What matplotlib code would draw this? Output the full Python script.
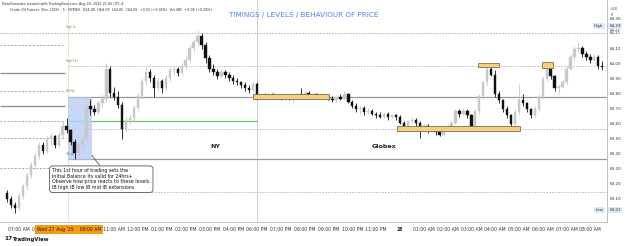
import matplotlib
matplotlib.use("Agg")
import matplotlib.pyplot as plt
import matplotlib.transforms as mtransforms
from matplotlib.patches import Rectangle

# ===== 1. Data (10-min bars, index 0 = 06:30 AM, 17:00-18:00 break skipped) =====
opens = [63.14, 63.10, 63.06, 63.04, 63.12, 63.19, 63.26, 63.33, 63.39, 63.46,
         63.42, 63.50, 63.52, 63.46, 63.53, 63.59, 63.56, 63.48, 63.41, 63.46,
         63.50, 63.72, 63.70, 63.68, 63.74, 63.77, 63.97, 63.81, 63.78, 63.73,
         63.57, 63.63, 63.64, 63.71, 63.79, 63.89, 63.95, 63.91, 63.84, 63.89,
         63.84, 63.91, 63.96, 63.97, 63.94, 63.99, 64.03, 64.11, 64.15, 64.19,
         64.13, 64.04, 63.97, 63.95, 63.92, 63.95, 63.93, 63.91, 63.89, 63.88,
         63.86, 63.84, 63.83, 63.87, 63.78, 63.79, 63.78, 63.80, 63.78, 63.79,
         63.77, 63.78, 63.77, 63.78, 63.80, 63.79, 63.81, 63.78, 63.80, 63.78,
         63.79, 63.78, 63.77, 63.76, 63.78, 63.77, 63.80, 63.75, 63.72, 63.70,
         63.71, 63.68, 63.69, 63.67, 63.66, 63.65, 63.67, 63.65, 63.66, 63.65,
         63.61, 63.58, 63.62, 63.63, 63.61, 63.57, 63.59, 63.56, 63.57, 63.55,
         63.53, 63.57, 63.59, 63.61, 63.69, 63.67, 63.69, 63.66, 63.59, 63.69,
         63.79, 63.88, 63.97, 63.93, 63.80, 63.76, 63.70, 63.66, 63.60, 63.68,
         63.76, 63.74, 63.70, 63.66, 63.70, 63.78, 63.90, 63.97, 63.92, 63.84,
         63.85, 63.88, 63.97, 64.05, 64.10, 64.11, 64.07, 64.05, 64.03, 64.05,
         63.99]
highs = [63.16, 63.12, 63.08, 63.14, 63.21, 63.28, 63.35, 63.41, 63.48, 63.48,
         63.52, 63.54, 63.53, 63.55, 63.62, 63.64, 63.57, 63.50, 63.48, 63.53,
         63.78, 63.77, 63.73, 63.76, 63.80, 64.01, 63.99, 63.85, 63.82, 63.75,
         63.65, 63.67, 63.73, 63.81, 63.91, 63.98, 63.97, 63.93, 63.91, 63.90,
         63.93, 63.98, 63.99, 63.98, 64.01, 64.06, 64.13, 64.17, 64.23, 64.21,
         64.15, 64.06, 64.00, 63.97, 63.97, 63.96, 63.95, 63.93, 63.91, 63.89,
         63.88, 63.86, 63.89, 63.88, 63.80, 63.81, 63.80, 63.81, 63.80, 63.80,
         63.79, 63.79, 63.79, 63.81, 63.84, 63.82, 63.82, 63.81, 63.81, 63.80,
         63.80, 63.79, 63.79, 63.79, 63.80, 63.82, 63.81, 63.76, 63.74, 63.72,
         63.72, 63.71, 63.70, 63.68, 63.68, 63.68, 63.68, 63.67, 63.67, 63.66,
         63.62, 63.63, 63.65, 63.64, 63.62, 63.60, 63.60, 63.58, 63.58, 63.56,
         63.58, 63.60, 63.63, 63.70, 63.70, 63.71, 63.70, 63.67, 63.70, 63.80,
         63.89, 64.00, 64.00, 63.96, 63.82, 63.77, 63.72, 63.67, 63.70, 63.87,
         63.80, 63.75, 63.71, 63.72, 63.80, 63.92, 64.01, 63.99, 63.93, 63.87,
         63.90, 63.99, 64.07, 64.12, 64.15, 64.12, 64.09, 64.07, 64.07, 64.06,
         64.02]
lows = [63.08, 63.04, 63.01, 63.03, 63.10, 63.16, 63.24, 63.30, 63.37, 63.40,
        63.41, 63.46, 63.44, 63.45, 63.51, 63.54, 63.46, 63.37, 63.39, 63.42,
        63.49, 63.66, 63.66, 63.67, 63.71, 63.75, 63.78, 63.76, 63.71, 63.50,
        63.55, 63.60, 63.62, 63.69, 63.77, 63.86, 63.88, 63.78, 63.82, 63.81,
        63.83, 63.89, 63.93, 63.92, 63.93, 63.97, 64.01, 64.08, 64.12, 64.10,
        64.01, 63.95, 63.93, 63.90, 63.91, 63.91, 63.89, 63.87, 63.86, 63.84,
        63.82, 63.81, 63.82, 63.76, 63.76, 63.77, 63.76, 63.77, 63.77, 63.76,
        63.76, 63.76, 63.74, 63.77, 63.78, 63.77, 63.77, 63.77, 63.77, 63.76,
        63.77, 63.76, 63.75, 63.75, 63.76, 63.76, 63.74, 63.71, 63.68, 63.67,
        63.66, 63.67, 63.66, 63.64, 63.64, 63.64, 63.63, 63.64, 63.63, 63.60,
        63.56, 63.57, 63.60, 63.59, 63.51, 63.55, 63.54, 63.55, 63.53, 63.52,
        63.52, 63.56, 63.58, 63.60, 63.65, 63.66, 63.64, 63.56, 63.56, 63.67,
        63.77, 63.86, 63.92, 63.78, 63.74, 63.68, 63.64, 63.57, 63.58, 63.66,
        63.72, 63.68, 63.64, 63.65, 63.69, 63.77, 63.89, 63.90, 63.82, 63.80,
        63.84, 63.87, 63.96, 64.03, 64.08, 64.05, 64.03, 64.01, 64.02, 63.97,
        63.96]
closes = [63.10, 63.06, 63.04, 63.12, 63.19, 63.26, 63.33, 63.39, 63.46, 63.42,
          63.50, 63.52, 63.46, 63.53, 63.59, 63.56, 63.48, 63.41, 63.46, 63.50,
          63.72, 63.70, 63.68, 63.74, 63.77, 63.97, 63.81, 63.78, 63.73, 63.57,
          63.63, 63.64, 63.71, 63.79, 63.89, 63.95, 63.91, 63.84, 63.89, 63.84,
          63.91, 63.96, 63.97, 63.94, 63.99, 64.03, 64.11, 64.15, 64.19, 64.13,
          64.04, 63.97, 63.95, 63.92, 63.95, 63.93, 63.91, 63.89, 63.88, 63.86,
          63.84, 63.83, 63.87, 63.78, 63.79, 63.78, 63.80, 63.78, 63.79, 63.77,
          63.78, 63.77, 63.78, 63.80, 63.79, 63.81, 63.78, 63.80, 63.78, 63.79,
          63.78, 63.77, 63.76, 63.78, 63.77, 63.80, 63.75, 63.72, 63.70, 63.71,
          63.68, 63.69, 63.67, 63.66, 63.65, 63.67, 63.65, 63.66, 63.65, 63.61,
          63.58, 63.62, 63.63, 63.61, 63.57, 63.59, 63.56, 63.57, 63.55, 63.53,
          63.57, 63.59, 63.61, 63.69, 63.67, 63.69, 63.66, 63.59, 63.69, 63.79,
          63.88, 63.97, 63.93, 63.80, 63.76, 63.70, 63.66, 63.60, 63.68, 63.76,
          63.74, 63.70, 63.66, 63.70, 63.78, 63.90, 63.97, 63.92, 63.84, 63.85,
          63.88, 63.97, 64.05, 64.10, 64.11, 64.07, 64.05, 64.03, 64.05, 63.99,
          63.98]

# time axis labels (bar index of each full hour)
hour_pos = [3, 9, 21, 27, 33, 39, 45, 51, 57, 63, 69, 75, 81, 87, 93, 99,
            105, 111, 117, 123, 129, 135, 141, 147]
hour_labels = ["07:00 AM", "08:00 AM", "10:00 AM", "11:00 AM", "12:00 PM",
               "01:00 PM", "02:00 PM", "03:00 PM", "04:00 PM", "06:00 PM",
               "07:00 PM", "08:00 PM", "09:00 PM", "10:00 PM", "11:00 PM", "28",
               "01:00 AM", "02:00 AM", "03:00 AM", "04:00 AM", "05:00 AM",
               "06:00 AM", "07:00 AM", "08:00 AM"]

# price scale
price_ticks = [64.30, 64.10, 64.00, 63.90, 63.80, 63.70, 63.60, 63.50, 63.40,
               63.30, 63.20, 63.10]

# previous-day levels (left) and IB levels (right)
left_levels = [64.13, 63.94, 63.82, 63.72, 63.62, 63.51, 63.31]
left_styles = ["--", "-", "--", "-", "--", "--", "--"]
ib_levels = [63.99, 63.78, 63.57, 63.37, 63.15]
ib_styles = ["--", "-", "--", "-", "--"]
top_level = 64.21
green_level = 63.62

# highlighted zones: (start bar, end bar, low, high)
zones = [(62.0, 81.2, 63.77, 63.80),
         (98.3, 129.3, 63.553, 63.585),
         (118.7, 124.0, 63.98, 64.007),
         (134.8, 137.6, 63.973, 64.013)]

# ===== 2. Figure =====
fig = plt.figure(figsize=(6.25, 2.46), dpi=100)
ax = fig.add_axes([0.0, 1 - 222 / 246, 607 / 625, 222 / 246])
ax.set_xlim(-1.8, 151.2)
ax.set_ylim(62.947, 64.427)
for s in ["top", "left"]:
    ax.spines[s].set_visible(False)
ax.spines["right"].set_color("#b2b5be")
ax.spines["bottom"].set_color("#b2b5be")
ax.spines["right"].set_linewidth(0.6)
ax.spines["bottom"].set_linewidth(0.6)
ax.set_xticks([])
ax.set_yticks([])

up_col, dn_col = "#c8c8c8", "#111111"
for i in range(len(closes)):
    col = up_col if closes[i] >= opens[i] else dn_col
    ax.vlines(i, lows[i], highs[i], color=col, lw=0.6, zorder=4)
    bottom = min(opens[i], closes[i])
    height = max(abs(closes[i] - opens[i]), 0.006)
    ax.add_patch(Rectangle((i - 0.3, bottom), 0.6, height, fc=col, ec=col,
                           lw=0.3, zorder=5))

# session verticals
ax.axvline(15.3, color="#f3e2c0", lw=0.7, zorder=1)
ax.axvline(63.0, color="#c8c8c8", lw=0.6, zorder=1)

# levels
dash = (0, (2.5, 1.8))
ax.hlines(top_level, -1.8, 151.2, color="#9a9a9a", lw=0.5, ls=dash, zorder=2)
for lv, st in zip(left_levels, left_styles):
    ls = dash if st == "--" else "-"
    col = "#9a9a9a" if st == "--" else "#8a8a8a"
    ax.hlines(lv, -1.8, 14.6, color=col, lw=0.6 if st == "--" else 0.9,
              ls=ls, zorder=2)
for lv, st in zip(ib_levels, ib_styles):
    ls = dash if st == "--" else "-"
    col = "#a8a8a8" if st == "--" else "#9a9a9a"
    ax.hlines(lv, 15.3, 151.2, color=col, lw=0.5 if st == "--" else 0.9,
              ls=ls, zorder=2)
ax.hlines(green_level, 15.3, 63.0, color="#5fd35f", lw=0.9, zorder=3)

# IB box
ax.add_patch(Rectangle((15.3, ib_levels[3]), 5.9, ib_levels[1] - ib_levels[3],
                       fc="#bcd0f7", ec="#aac2f0", lw=0.4, alpha=0.85, zorder=3))

for x0, x1, lo, hi in zones:
    ax.add_patch(Rectangle((x0, lo), x1 - x0, hi - lo, fc="#f3cf86",
                           ec="#8a6d3b", lw=0.6, zorder=6))

# tiny level tags
for lv, tag in [(64.225, "High 1x"), (63.995, "High 0.5x"),
                (63.80, "IB High"), (63.375, "IB Low")]:
    ax.text(14.8, lv + 0.01, tag, fontsize=1.8, color="#777777",
            ha="left", va="bottom", zorder=7)

# session names
ax.text(52.4, 63.447, "NY", fontsize=4.6, fontweight="bold", color="#222222",
        ha="center", va="center")
ax.text(95.0, 63.447, "Globex", fontsize=4.6, fontweight="bold",
        color="#222222", ha="center", va="center")

# annotation box
ax.text(11.3, 63.305,
        "This 1st hour of trading sets the\n"
        "Initial Balance its valid for 24hrs+\n"
        "Observe how price reacts to these levels.\n"
        "IB high IB low IB mid IB extensions",
        fontsize=3.4, color="#111111", ha="left", va="top", linespacing=1.15,
        zorder=8,
        bbox=dict(boxstyle="round,pad=0.5,rounding_size=0.6", fc="white",
                  ec="#555555", lw=0.6))
ax.plot([21.4, 23.3], [63.39, 63.325], color="#555555", lw=0.6, zorder=8)

# time axis
tr_x = mtransforms.blended_transform_factory(ax.transData, ax.transAxes)
for pos, lab in zip(hour_pos, hour_labels):
    bold = lab == "28"
    ax.text(pos, -0.022, lab, transform=tr_x, fontsize=3.3,
            fontweight="bold" if bold else "normal", color="#333333",
            ha="center", va="top", clip_on=False, zorder=9)
ax.text(15.6, -0.022, "Wed 27 Aug '25    09:00 AM", transform=tr_x,
        fontsize=3.3, color="#222222", ha="center", va="top", clip_on=False,
        zorder=10, bbox=dict(boxstyle="square,pad=0.45", fc="#f59a0c",
                             ec="#f59a0c", lw=0))

# price scale
tr_y = mtransforms.blended_transform_factory(ax.transAxes, ax.transData)
for p in price_ticks:
    ax.text(1.004, p, f"{p:.2f}", transform=tr_y, fontsize=3.0,
            color="#333333", ha="left", va="center", clip_on=False)
ax.text(1.004, 64.228, "64.22", transform=tr_y, fontsize=2.8, color="#333333",
        ha="left", va="center", clip_on=False)
ax.text(1.004, 64.205, "64.21", transform=tr_y, fontsize=2.8, color="#333333",
        ha="left", va="center", clip_on=False)
for p, tag, val in [(64.255, "High", "64.23"), (63.028, "Low", "63.01")]:
    ax.text(1.004, p, val, transform=tr_y, fontsize=3.0, color="#333333",
            ha="left", va="center", clip_on=False, zorder=10,
            bbox=dict(boxstyle="square,pad=0.3", fc="#dde8f8", ec="none"))
    ax.text(0.994, p, tag, transform=tr_y, fontsize=3.0, color="#333333",
            ha="right", va="center", clip_on=False, zorder=10,
            bbox=dict(boxstyle="square,pad=0.3", fc="#dde8f8", ec="none"))
fig.text(611 / 625, 1 - 9 / 246, "USD", fontsize=2.4, color="#555555",
         ha="left", va="center")
fig.text(611 / 625, 1 - 15 / 246, "R", fontsize=2.4, color="#555555",
         ha="left", va="center")

# headers and title
fig.text(0.004, 1 - 4 / 246,
         "NateGonzalez created with TradingView.com, Aug 28, 2025 21:05 UTC-4",
         fontsize=2.4, color="#333333", ha="left", va="center")
fig.text(0.016, 1 - 10 / 246,
         "Crude Oil Futures (Dec 2025) \u00b7 5 \u00b7 NYMEX  O64.08  H64.09  "
         "L64.05  C64.06  +0.01 (+0.02%)  Vol 485  +0.05 (+0.08%)",
         fontsize=2.4, color="#333333", ha="left", va="center")
fig.text(304 / 625, 1 - 15 / 246, "TIMINGS / LEVELS / BEHAVIOUR OF PRICE",
         fontsize=5.2, color="#4f82f0", ha="center", va="center")

# logo
fig.text(4 / 625, 1 - 239 / 246, "17", fontsize=4.2, fontweight="bold",
         color="#131722", ha="left", va="center")
fig.text(12 / 625, 1 - 239 / 246, "TradingView", fontsize=3.8,
         fontweight="bold", color="#131722", ha="left", va="center")

fig.savefig("out.png", dpi=100, facecolor="white")
